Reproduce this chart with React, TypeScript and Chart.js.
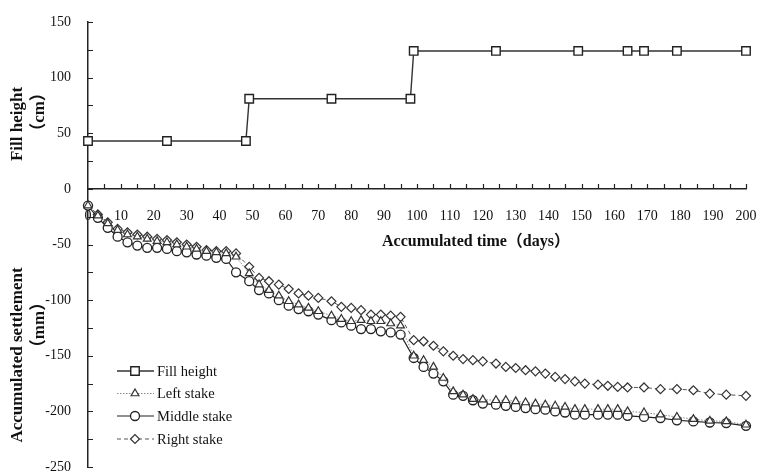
import React, { useEffect, useRef } from 'react';
import { Chart, registerables } from 'chart.js';

Chart.register(...registerables);

// ---- data ----
const fillDays = [0, 24, 48, 49, 74, 98, 99, 124, 149, 164, 169, 179, 200];
const fillHeight = [43, 43, 43, 81, 81, 81, 124, 124, 124, 124, 124, 124, 124];

const stakeDays = [
  0, 3, 6, 9, 12, 15, 18, 21, 24, 27, 30, 33, 36, 39, 42, 45,
  49, 52, 55, 58, 61, 64, 67, 70, 74, 77, 80, 83, 86, 89, 92, 95,
  99, 102, 105, 108, 111, 114, 117, 120, 124, 127, 130, 133, 136, 139, 142, 145, 148, 151,
  155, 158, 161, 164, 169, 174, 179, 184, 189, 194, 200,
];
const leftStake = [
  -15, -24, -31, -37, -41, -43, -45, -47, -48, -50, -52, -54, -56, -57, -58, -61,
  -76, -86, -91, -96, -101, -104, -107, -110, -114, -117, -119, -118, -119, -119, -121, -123,
  -150, -154, -160, -170, -182, -185, -189, -189.5, -190, -190, -191, -192, -193, -194, -195, -196, -198, -198,
  -198, -198, -198, -200, -201, -203, -205, -207, -208.5, -209, -212,
];
const middleStake = [
  -15, -26, -35, -43, -48, -51, -53, -53, -54, -56, -57, -59, -60, -62, -63, -75,
  -83, -91, -94, -100, -105, -108, -110, -113, -118, -120, -123, -126, -126, -128, -129, -131,
  -152, -160, -166, -173, -185, -186, -190, -193, -194, -195, -196, -197, -198, -198.5, -200, -201, -203, -203,
  -203, -203, -203, -204, -205, -206, -208, -209, -210, -210.5, -213,
];
const rightStake = [
  -15, -23, -30, -36, -39, -41, -43, -45, -46, -48, -50, -52, -55, -56, -56, -58,
  -70, -80, -83, -86, -90, -94, -96, -98, -101, -106, -107, -109, -113, -113, -114, -115,
  -136, -137, -141, -146, -150, -153, -154, -155, -157, -160, -161, -163, -164, -166, -169, -171, -173, -175,
  -176, -177, -178, -178.5, -178.5, -180, -180, -181, -184, -185, -186,
];

const seriesNames = ['Fill height', 'Left stake', 'Middle stake', 'Right stake'];
const xMin = 0, xMax = 200, xMinorStep = 5, xLabelStep = 10;
const yMin = -250, yMax = 150, yMinorStep = 25, yLabelStep = 50;

const SERIF = "'Liberation Serif', 'Times New Roman', serif";
const CJK = "'Noto Sans CJK SC'";

function drawMarker(ctx: CanvasRenderingContext2D, style: string, x: number, y: number, r: number) {
  ctx.beginPath();
  if (style === 'rect') {
    const s = r * Math.SQRT1_2;
    ctx.rect(x - s, y - s, 2 * s, 2 * s);
  } else if (style === 'circle') {
    ctx.arc(x, y, r, 0, Math.PI * 2);
  } else if (style === 'triangle') {
    let a = 0;
    ctx.moveTo(x + Math.sin(a) * r, y - Math.cos(a) * r);
    a += (2 * Math.PI) / 3;
    ctx.lineTo(x + Math.sin(a) * r, y - Math.cos(a) * r);
    a += (2 * Math.PI) / 3;
    ctx.lineTo(x + Math.sin(a) * r, y - Math.cos(a) * r);
  } else if (style === 'rectRot') {
    ctx.moveTo(x - r, y);
    ctx.lineTo(x, y - r);
    ctx.lineTo(x + r, y);
    ctx.lineTo(x, y + r);
  }
  ctx.closePath();
  ctx.fill();
  ctx.stroke();
}

const decorPlugin = {
  id: 'decor',
  beforeDatasetsDraw(chart: any) {
    const ctx = chart.ctx as CanvasRenderingContext2D;
    const xs = chart.scales.x;
    const ys = chart.scales.y;
    const y0 = ys.getPixelForValue(0);
    const xl = xs.getPixelForValue(xMin);
    ctx.save();
    ctx.strokeStyle = '#222';
    ctx.lineWidth = 1.2;
    ctx.beginPath();
    for (const t of ys.ticks) {
      const py = Math.round(ys.getPixelForValue(t.value)) + 0.5;
      ctx.moveTo(xl, py);
      ctx.lineTo(xl + 5, py);
    }
    for (const t of xs.ticks) {
      if (t.value === xMin) continue;
      const px = Math.round(xs.getPixelForValue(t.value)) + 0.5;
      ctx.moveTo(px, y0);
      ctx.lineTo(px, y0 - 5);
    }
    ctx.stroke();
    ctx.restore();
  },
  afterDraw(chart: any) {
    const ctx = chart.ctx as CanvasRenderingContext2D;
    ctx.save();
    ctx.fillStyle = '#111';
    ctx.textAlign = 'center';
    ctx.textBaseline = 'middle';
    // x title
    ctx.font = `bold 16px ${SERIF}, ${CJK}`;
    ctx.fillText('Accumulated time（days）', 476, 242);
    // y titles (rotated)
    const vtext = (txt: string, x: number, y: number) => {
      ctx.save();
      ctx.translate(x, y);
      ctx.rotate(-Math.PI / 2);
      ctx.fillText(txt, 0, 0);
      ctx.restore();
    };
    ctx.font = `bold 17px ${SERIF}, ${CJK}`;
    vtext('Fill height', 18, 124);
    vtext('（cm）', 40, 112);
    vtext('Accumulated settlement', 18, 355);
    vtext('（mm）', 40, 325);

    // legend
    const rows = [371, 393.5, 416, 439];
    chart.data.datasets.forEach((ds: any, i: number) => {
      const y = rows[i];
      ctx.save();
      ctx.strokeStyle = ds.borderColor;
      ctx.lineWidth = ds.borderWidth;
      ctx.setLineDash(ds.borderDash || []);
      ctx.beginPath();
      ctx.moveTo(117, y);
      ctx.lineTo(154, y);
      ctx.stroke();
      ctx.setLineDash([]);
      ctx.fillStyle = '#fff';
      ctx.strokeStyle = ds.pointBorderColor;
      ctx.lineWidth = ds.pointBorderWidth;
      drawMarker(ctx, ds.pointStyle, 135, y, ds.pointRadius);
      ctx.restore();
      ctx.fillStyle = '#111';
      ctx.textAlign = 'left';
      ctx.textBaseline = 'middle';
      ctx.font = `14.5px ${SERIF}`;
      ctx.fillText(ds.label, 157, y + 1);
    });
    ctx.restore();
  },
};

export default function App() {
  const ref = useRef<HTMLCanvasElement | null>(null);
  useEffect(() => {
    document.body.style.margin = '0';
    const canvas = ref.current!;
    const pts = (xs: number[], ys: number[]) => xs.map((x, i) => ({ x, y: ys[i] }));
    const tickFont = { family: SERIF, size: 14 };
    const chart = new Chart(canvas, {
      type: 'line',
      data: {
        datasets: [
          {
            label: seriesNames[0],
            data: pts(fillDays, fillHeight),
            borderColor: '#333',
            borderWidth: 1.4,
            pointStyle: 'rect',
            pointRadius: 6,
            pointBorderColor: '#222',
            pointBorderWidth: 1.4,
            pointBackgroundColor: '#fff',
            clip: false,
          },
          {
            label: seriesNames[1],
            data: pts(stakeDays, leftStake),
            borderColor: '#888',
            borderWidth: 1,
            borderDash: [1.5, 1.5],
            pointStyle: 'triangle',
            pointRadius: 4.5,
            pointBorderColor: '#333',
            pointBorderWidth: 1.2,
            pointBackgroundColor: '#fff',
            clip: false,
          },
          {
            label: seriesNames[2],
            data: pts(stakeDays, middleStake),
            borderColor: '#222',
            borderWidth: 1.2,
            pointStyle: 'circle',
            pointRadius: 4.5,
            pointBorderColor: '#222',
            pointBorderWidth: 1.3,
            pointBackgroundColor: '#fff',
            clip: false,
          },
          {
            label: seriesNames[3],
            data: pts(stakeDays, rightStake),
            borderColor: '#555',
            borderWidth: 1,
            borderDash: [4, 3],
            pointStyle: 'rectRot',
            pointRadius: 4.5,
            pointBorderColor: '#333',
            pointBorderWidth: 1.2,
            pointBackgroundColor: '#fff',
            clip: false,
          },
        ] as any,
      },
      options: {
        animation: false,
        responsive: false,
        devicePixelRatio: 1,
        layout: { padding: { left: 0, right: 13, top: 22, bottom: 8 } },
        plugins: { legend: { display: false }, tooltip: { enabled: false } },
        elements: { line: { tension: 0 } },
        scales: {
          x: {
            type: 'linear',
            min: xMin,
            max: xMax,
            position: { y: 0 } as any,
            border: { display: true, color: '#222', width: 1.5 },
            grid: { display: false },
            ticks: {
              stepSize: xMinorStep,
              autoSkip: false,
              maxRotation: 0,
              padding: 11,
              color: '#111',
              font: tickFont,
              callback: (v: any) => (v % xLabelStep === 0 ? String(v) : ''),
            },
            afterFit: (s: any) => {
              s.height = 0;
              s.paddingLeft = 0;
              s.paddingRight = 0;
            },
          },
          y: {
            type: 'linear',
            min: yMin,
            max: yMax,
            position: 'left',
            border: { display: true, color: '#222', width: 1.5 },
            grid: { display: false },
            ticks: {
              stepSize: yMinorStep,
              autoSkip: false,
              padding: 9,
              color: '#111',
              font: tickFont,
              callback: (v: any) => (v % yLabelStep === 0 ? String(v) : ''),
            },
            afterFit: (s: any) => {
              s.width = 88;
              s.paddingTop = 0;
              s.paddingBottom = 0;
            },
          },
        },
      } as any,
      plugins: [decorPlugin],
    });
    return () => chart.destroy();
  }, []);
  return (
    <div style={{ width: 759, height: 475 }}>
      <canvas ref={ref} width={759} height={475} style={{ display: 'block' }} />
    </div>
  );
}
